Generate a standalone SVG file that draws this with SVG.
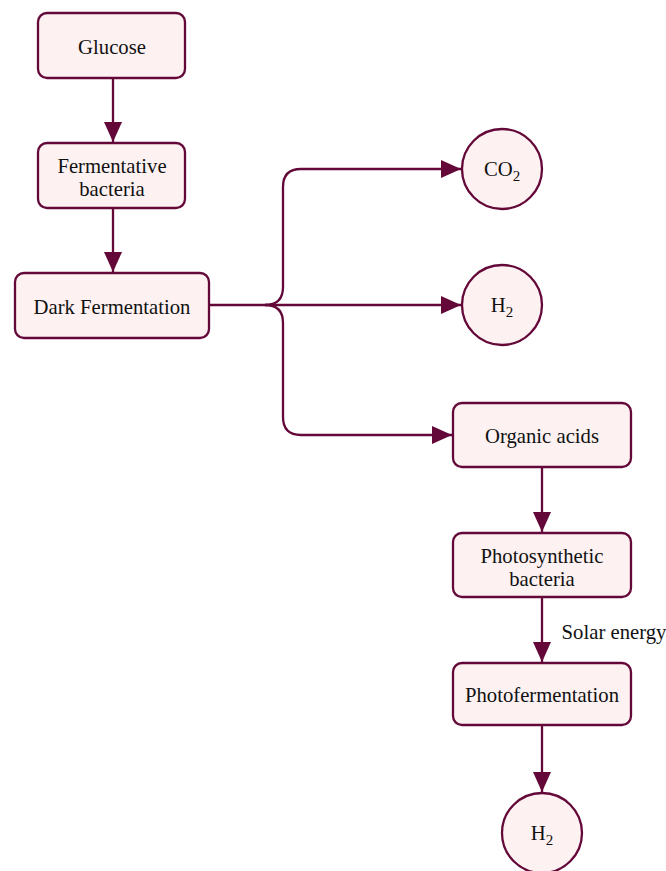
<svg xmlns="http://www.w3.org/2000/svg" width="666" height="871" viewBox="0 0 666 871">
<style>
.box{fill:#fdf1f2;stroke:#630838;stroke-width:2.3}
.ln{fill:none;stroke:#630838;stroke-width:2.3}
text{font-family:"Liberation Serif","Times New Roman",serif;font-size:20.7px;fill:#111;text-anchor:middle}
.sub{font-size:15px}
</style>
<defs>
<marker id="ah" markerUnits="userSpaceOnUse" markerWidth="21" markerHeight="18" refX="20" refY="9" orient="auto">
<path d="M0,0 L20,9 L0,18 Z" fill="#630838"/>
</marker>
</defs>
<g id="connectors">
<path class="ln" d="M113 78 V142" marker-end="url(#ah)"/>
<path class="ln" d="M113 208 V272" marker-end="url(#ah)"/>
<path class="ln" d="M209 305 H265 Q283 305 283 287 V187 Q283 169 301 169 H461" marker-end="url(#ah)"/>
<path class="ln" d="M265 305 H461" marker-end="url(#ah)"/>
<path class="ln" d="M265 305 Q283 305 283 323 V417 Q283 435 301 435 H452" marker-end="url(#ah)"/>
<path class="ln" d="M542 467 V532" marker-end="url(#ah)"/>
<path class="ln" d="M542 597 V662" marker-end="url(#ah)"/>
<path class="ln" d="M542 725 V792" marker-end="url(#ah)"/>
<text x="614" y="639">Solar energy</text>
</g>
<g id="glucose"><rect class="box" x="38" y="13" width="147" height="65" rx="9"/><text x="112" y="54">Glucose</text></g>
<g id="fermentative-bacteria"><rect class="box" x="38" y="143" width="147" height="65" rx="9"/><text x="112" y="173">Fermentative</text><text x="112" y="196">bacteria</text></g>
<g id="dark-fermentation"><rect class="box" x="15" y="273" width="194" height="65" rx="9"/><text x="112" y="314">Dark Fermentation</text></g>
<g id="co2"><circle class="box" cx="502" cy="169" r="40"/><text x="502" y="176">CO<tspan class="sub" dy="5">2</tspan></text></g>
<g id="h2-a"><circle class="box" cx="502" cy="305" r="40"/><text x="502" y="312">H<tspan class="sub" dy="5">2</tspan></text></g>
<g id="organic-acids"><rect class="box" x="453" y="403" width="178" height="64" rx="9"/><text x="542" y="443">Organic acids</text></g>
<g id="photosynthetic-bacteria"><rect class="box" x="453" y="533" width="178" height="64" rx="9"/><text x="542" y="563">Photosynthetic</text><text x="542" y="586">bacteria</text></g>
<g id="photofermentation"><rect class="box" x="453" y="663" width="178" height="62" rx="9"/><text x="542" y="702">Photofermentation</text></g>
<g id="h2-b"><circle class="box" cx="542" cy="833" r="40"/><text x="542" y="840">H<tspan class="sub" dy="5">2</tspan></text></g>
</svg>
